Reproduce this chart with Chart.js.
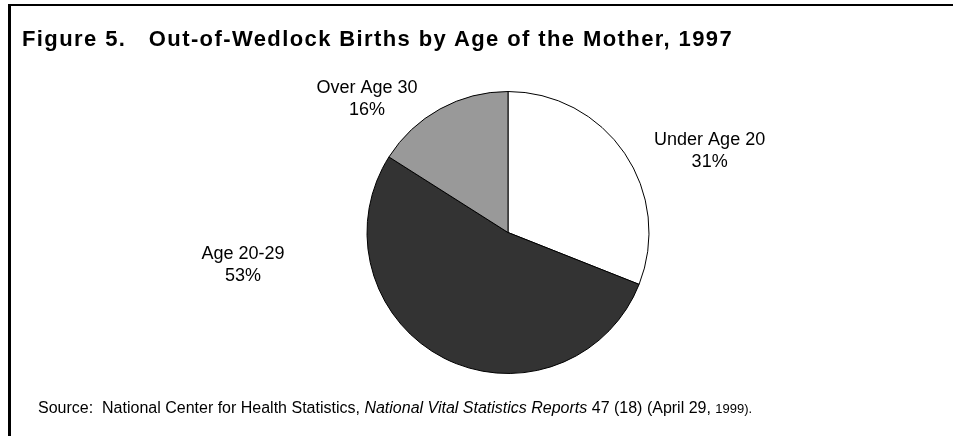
<!DOCTYPE html>
<html>
<head>
<meta charset="utf-8">
<script src="https://cdn.jsdelivr.net/npm/chart.js@4.4.1/dist/chart.umd.min.js"></script>
<style>
  html, body { margin: 0; padding: 0; background: #fff; }
  #page { position: relative; width: 953px; height: 436px; overflow: hidden; font-family: "Liberation Sans", Arial, sans-serif; color: #000; }
  #frame { position: absolute; left: 8px; top: 4px; right: -10px; bottom: -10px; border-top: 2px solid #000; border-left: 3px solid #000; }
  #title { position: absolute; left: 22px; top: 28px; font-weight: bold; font-size: 22px; letter-spacing: 1.4px; line-height: 22px; white-space: pre; }
  #source { position: absolute; left: 38px; top: 399px; font-size: 16px; line-height: 18px; white-space: pre; }
  #source .small { font-size: 13px; }
  canvas { position: absolute; left: 0; top: 0; }
</style>
</head>
<body>
<div id="page">
  <div id="frame"></div>
  <canvas id="myChart" width="953" height="436"></canvas>
  <div id="title">Figure 5.   Out-of-Wedlock Births by Age of the Mother, 1997</div>
  <div id="source">Source:  National Center for Health Statistics, <i>National Vital Statistics Reports</i> 47 (18) (April 29, <span class="small">1999).</span></div>
</div>
<script>
var categories = ["Under Age 20", "Age 20-29", "Over Age 30"];
var shares = [31, 53, 16];
var sliceColors = ['#ffffff', '#333333', '#999999'];

// where each label sits, relative to the pie centre, in units of the radius
var labelOffsets = [
    {dx: 1.43, dy: -0.58},
    {dx: -1.88, dy: 0.23},
    {dx: -1.0, dy: -0.95}
];

var outsideLabels = {
    id: 'outsideLabels',
    afterDatasetsDraw: function (chart) {
        var ctx = chart.ctx;
        var meta = chart.getDatasetMeta(0);
        var data = chart.data.datasets[0].data;
        var total = data.reduce(function (a, b) { return a + b; }, 0);
        ctx.save();
        ctx.fillStyle = '#000';
        ctx.font = '18px "Liberation Sans", Arial, sans-serif';
        ctx.textAlign = 'center';
        ctx.textBaseline = 'middle';
        meta.data.forEach(function (arc, i) {
            var p = arc.getProps(['x', 'y', 'outerRadius'], true);
            var off = labelOffsets[i];
            var cx = p.x + off.dx * p.outerRadius;
            var cy = p.y + off.dy * p.outerRadius;
            var pct = Math.round(data[i] / total * 100) + '%';
            ctx.fillText(chart.data.labels[i], cx, cy - 11);
            ctx.fillText(pct, cx, cy + 11);
        });
        ctx.restore();
    }
};

var ctx = document.getElementById("myChart").getContext('2d');
var myChart = new Chart(ctx, {
    type: 'pie',
    data: {
        labels: categories,
        datasets: [{
            data: shares,
            backgroundColor: sliceColors,
            borderColor: '#000',
            borderWidth: 1
        }]
    },
    options: {
        responsive: false,
        animation: false,
        events: [],
        layout: {
            padding: {left: 365, right: 302, top: 91, bottom: 62}
        },
        plugins: {
            legend: {display: false},
            tooltip: {enabled: false}
        }
    },
    plugins: [outsideLabels]
});
</script>
</body>
</html>
